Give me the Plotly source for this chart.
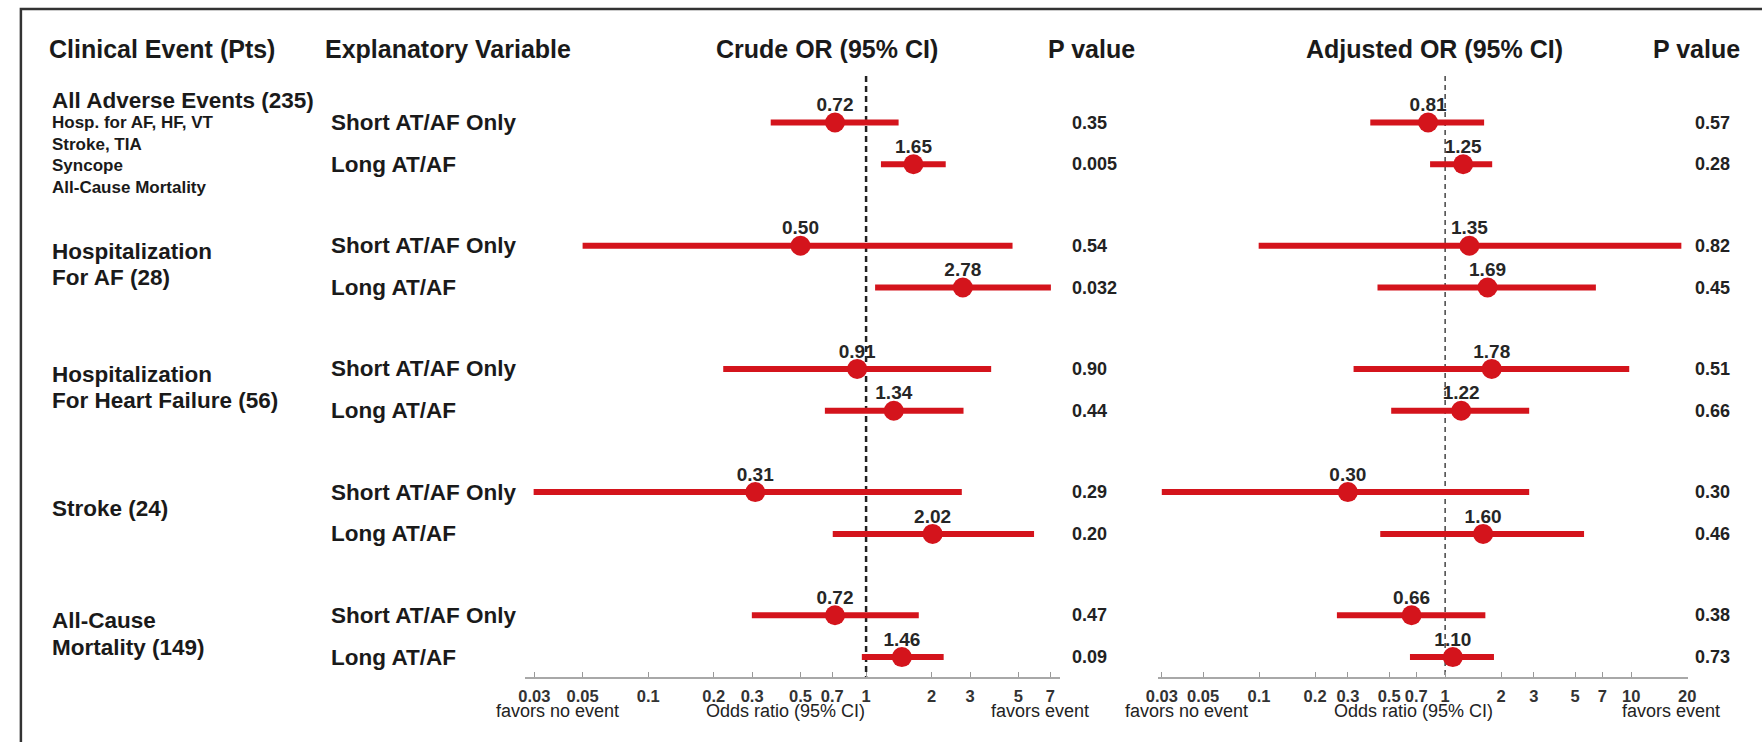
import plotly.graph_objects as go

# ---------------- data ----------------
event_lines = [
    ["All Adverse Events (235)"],
    ["Hospitalization", "For AF (28)"],
    ["Hospitalization", "For Heart Failure (56)"],
    ["Stroke (24)"],
    ["All-Cause", "Mortality (149)"],
]
adverse_components = ["Hosp. for AF, HF, VT", "Stroke, TIA", "Syncope", "All-Cause Mortality"]
variables = ["Short AT/AF Only", "Long AT/AF"]

crude_or = [0.72, 1.65, 0.50, 2.78, 0.91, 1.34, 0.31, 2.02, 0.72, 1.46]
crude_lo = [0.365, 1.17, 0.050, 1.10, 0.221, 0.647, 0.0298, 0.703, 0.299, 0.956]
crude_hi = [1.41, 2.32, 4.70, 7.05, 3.75, 2.80, 2.75, 5.90, 1.745, 2.27]
crude_p = ["0.35", "0.005", "0.54", "0.032", "0.90", "0.44", "0.29", "0.20", "0.47", "0.09"]

adj_or = [0.81, 1.25, 1.35, 1.69, 1.78, 1.22, 0.30, 1.60, 0.66, 1.10]
adj_lo = [0.396, 0.83, 0.0995, 0.433, 0.322, 0.513, 0.030, 0.448, 0.262, 0.647]
adj_hi = [1.62, 1.79, 18.6, 6.46, 9.76, 2.83, 2.83, 5.58, 1.645, 1.83]
adj_p = ["0.57", "0.28", "0.82", "0.45", "0.51", "0.66", "0.30", "0.46", "0.38", "0.73"]

crude_ticks = [0.03, 0.05, 0.1, 0.2, 0.3, 0.5, 0.7, 1, 2, 3, 5, 7]
adj_ticks = [0.03, 0.05, 0.1, 0.2, 0.3, 0.5, 0.7, 1, 2, 3, 5, 7, 10, 20]

headers = ["Clinical Event (Pts)", "Explanatory Variable", "Crude OR (95% CI)",
           "P value", "Adjusted OR (95% CI)", "P value"]

# ---------------- layout constants (pixels) ----------------
W, H = 1762, 742
FONT = "Liberation Sans, Arial, Helvetica, sans-serif"
RED = "#d4141c"
INK = "#1a1a1a"
AXIS_Y = 677          # pixel row of the odds-ratio axes
ROW0, GROUP_STEP, PAIR_STEP = 122.5, 123.2, 41.8


def px(x):
    return x / W


def py(y):
    return 1 - y / H


def fmt_tick(v):
    return f"{v:g}"


rows = [ROW0 + (i // 2) * GROUP_STEP + (i % 2) * PAIR_STEP for i in range(len(crude_or))]

fig = go.Figure()

panels = [
    ("x", crude_or, crude_lo, crude_hi, 2.5, "#222222", "6px,4px"),
    ("x2", adj_or, adj_lo, adj_hi, 1.5, "#444444", "5px,4px"),
]
for xa, orv, lo, hi, dw, dc, dash in panels:
    # reference line at OR = 1
    fig.add_trace(go.Scatter(
        x=[1, 1], y=[76, AXIS_Y], mode="lines", xaxis=xa, yaxis="y",
        line=dict(color=dc, width=dw, dash=dash), hoverinfo="skip", showlegend=False))
    # point estimates with 95% CI
    fig.add_trace(go.Scatter(
        x=orv, y=rows, mode="markers", xaxis=xa, yaxis="y",
        marker=dict(size=20, color=RED, line=dict(width=0)),
        error_x=dict(type="data", symmetric=False,
                     array=[h - o for h, o in zip(hi, orv)],
                     arrayminus=[o - l for o, l in zip(orv, lo)],
                     color=RED, thickness=6, width=0),
        hoverinfo="skip", showlegend=False))
    # value labels above the points
    fig.add_trace(go.Scatter(
        x=orv, y=[r - 16 for r in rows], mode="text", xaxis=xa, yaxis="y",
        text=[f"{v:.2f}" for v in orv],
        textfont=dict(family=FONT, size=19, color="#262626", weight="bold"),
        hoverinfo="skip", showlegend=False))

ann = []


def label(text, x, y, size, bold=False, anchor="left", color=INK):
    ann.append(dict(
        text=text, x=px(x), y=py(y), xref="paper", yref="paper",
        xanchor=anchor, yanchor="middle", align=anchor if anchor != "center" else "center",
        showarrow=False, borderpad=0, borderwidth=0,
        font=dict(family=FONT, size=size, color=color, weight="bold" if bold else "normal")))


# column headers
header_x = [37, 317, 712, 1048, 1309, 1660]
for text, x in zip(headers, header_x):
    label(text, x, 48.5, 25, bold=True)

# clinical events
for g, lines in enumerate(event_lines):
    ys = rows[2 * g]
    mid = ys + PAIR_STEP / 2
    if g == 0:
        label(lines[0], 40, ys - 22.5, 22.5, bold=True)
        for k, comp in enumerate(adverse_components):
            label(comp, 40, ys + 21.7 * k, 17, bold=True)
    elif len(lines) == 2:
        label(lines[0], 40, mid - 15.5, 22.5, bold=True)
        label(lines[1], 40, mid + 11, 22.5, bold=True)
    else:
        label(lines[0], 40, mid - 4.5, 22.5, bold=True)

# explanatory variables and p values
for i, y in enumerate(rows):
    label(variables[i % 2], 323, y, 22.5, bold=True)
    label(crude_p[i], 1072, y, 18, bold=True, color="#222222")
    label(adj_p[i], 1702, y, 18, bold=True, color="#222222")

# axis captions
for x, text in [(552, "favors no event"), (782, "Odds ratio (95% CI)"), (1040, "favors event"),
                (1188, "favors no event"), (1418, "Odds ratio (95% CI)"), (1678, "favors event")]:
    label(text, x, 711, 18, anchor="center", color="#222222")

axis_common = dict(
    type="log", showgrid=False, zeroline=False, showline=True, linecolor="#a8a8a8",
    linewidth=1.5, ticks="inside", ticklen=5, tickwidth=1.2, tickcolor="#999999",
    tickfont=dict(family=FONT, size=16.5, color="#333333", weight="bold"),
    ticklabelstandoff=3, anchor="y", fixedrange=True,
)

fig.update_layout(
    width=W, height=H,
    margin=dict(l=0, r=0, t=0, b=0),
    paper_bgcolor="white", plot_bgcolor="white",
    showlegend=False,
    xaxis=dict(axis_common, domain=[px(518.8), px(1059.6)], range=[-1.5658, 0.8880],
               tickvals=crude_ticks, ticktext=[fmt_tick(v) for v in crude_ticks]),
    xaxis2=dict(axis_common, domain=[px(1158.9), px(1695.3)], range=[-1.5446, 1.3056],
                tickvals=adj_ticks, ticktext=[fmt_tick(v) for v in adj_ticks]),
    yaxis=dict(domain=[py(AXIS_Y), 1], range=[AXIS_Y, 0], visible=False, fixedrange=True),
    annotations=ann,
    shapes=[dict(type="rect", xref="paper", yref="paper",
                 x0=px(9), x1=1.05, y0=-0.1, y1=py(9),
                 line=dict(color="#333333", width=2.5), fillcolor="rgba(0,0,0,0)")],
)

fig.write_html("out.html")
